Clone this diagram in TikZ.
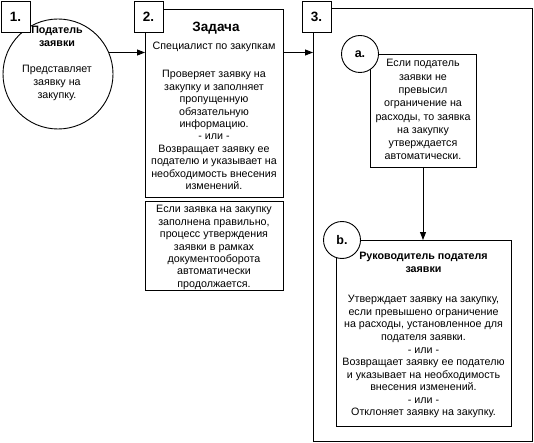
\documentclass[tikz,border=0pt]{standalone}
\usepackage{fontspec}
\setmainfont{Liberation Sans}
\usetikzlibrary{arrows.meta,shapes.geometric}
\begin{document}
\begin{tikzpicture}[x=1pt,y=-1pt,
  every node/.style={inner sep=0pt, outer sep=0pt},
  ln/.style={draw=black, line width=0.9pt},
  boxrect/.style={ln, fill=white, rectangle},
  numbox/.style={ln, fill=white, rectangle, minimum width=29pt, minimum height=31pt,
     font=\fontsize{13.5}{15}\selectfont\bfseries},
  letcirc/.style={ln, fill=white, circle, minimum size=37pt,
     font=\fontsize{12.5}{14}\selectfont\bfseries},
  txt/.style={align=center, anchor=north, font=\fontsize{10.7}{12.4}\selectfont},
  btxt/.style={align=center, anchor=north, font=\fontsize{10.7}{13}\selectfont\bfseries},
  arr/.style={ln, -{Triangle[length=8pt,width=6pt]}}]
\useasboundingbox (0,0) rectangle (534,443);

% --- step 1
\node[ln, fill=white, circle, minimum size=110pt] (c1) at (58,74) {};
\node[numbox] (n1) at (15.5,16.5) {1.};
\node[btxt] (t1a) at (57,26.5) {Податель\\заявки};
\node[txt, font=\fontsize{10.7}{13}\selectfont] (t1b) at (57,65) {Представляет\\заявку на\\закупку.};

% --- step 2
\node[boxrect, minimum width=138pt, minimum height=188pt] (b2) at (214,103) {};
\node[boxrect, minimum width=138pt, minimum height=89pt] (b2n) at (214,245.5) {};
\node[numbox] (n2) at (148.5,16.5) {2.};
\node[anchor=base, font=\fontsize{13.5}{15}\selectfont\bfseries] (t2h) at (216,31.5) {Задача};
\node[txt] (t2s) at (214,42.5) {Специалист по закупкам};
\node[txt] (t2b) at (214,70.5) {Проверяет заявку на\\закупку и заполняет\\пропущенную\\обязательную\\информацию.\\- или -\\Возвращает заявку ее\\подателю и указывает на\\необходимость внесения\\изменений.};
\node[txt] (t2n) at (214,205.5) {Если заявка на закупку\\заполнена правильно,\\процесс утверждения\\заявки в рамках\\документооборота\\автоматически\\продолжается.};

% --- step 3
\node[boxrect, minimum width=219pt, minimum height=433pt] (b3) at (422.5,224.5) {};
\node[numbox] (n3) at (316.5,16.5) {3.};

\node[boxrect, minimum width=106pt, minimum height=113pt] (ba) at (423,110.5) {};
\node[letcirc] (ca) at (360,54) {a.};
\node[txt, font=\fontsize{10.7}{13.3}\selectfont] (ta) at (423,59.5) {Если податель\\заявки не\\превысил\\ограничение на\\расходы, то заявка\\на закупку\\утверждается\\автоматически.};

\node[boxrect, minimum width=175pt, minimum height=186pt] (bb) at (423.5,333) {};
\node[letcirc] (cb) at (342,240) {b.};
\node[btxt] (tbh) at (423.5,252.5) {Руководитель подателя\\заявки};
\node[txt, font=\fontsize{10.7}{12.55}\selectfont] (tbb) at (423.5,295.5) {Утверждает заявку на закупку,\\если превышено ограничение\\на расходы, установленное для\\подателя заявки.\\- или -\\Возвращает заявку ее подателю\\и указывает на необходимость\\внесения изменений.\\- или -\\Отклоняет заявку на закупку.};

% --- connectors
\coordinate (lvl) at (0,52.5);
\draw[arr] (c1.23.6) -- (c1.23.6 -| b2.west);
\draw[arr] (b2.east |- lvl) -- (b3.west |- lvl);
\draw[arr] (ba.south) -- (bb.north -| ba.south);
\end{tikzpicture}
\end{document}
